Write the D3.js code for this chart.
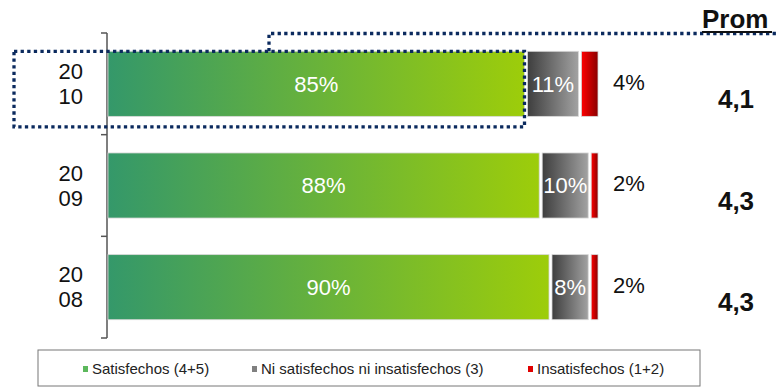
<!DOCTYPE html>
<html>
<head>
<meta charset="utf-8">
<script src="https://cdn.jsdelivr.net/npm/d3@7"></script>
<style>
  body { margin: 0; background: #fff; }
  svg { display: block; font-family: "Liberation Sans", Arial, sans-serif; }
</style>
</head>
<body>
<div id="chart"></div>
<script>
// data
const years = ["2010", "2009", "2008"];
const satisfechos = [85, 88, 90];
const ni = [11, 10, 8];
const insatisfechos = [4, 2, 2];
const prom = ["4,1", "4,3", "4,3"];
const seriesNames = ["Satisfechos (4+5)", "Ni satisfechos ni insatisfechos (3)", "Insatisfechos (1+2)"];

const width = 778, height = 390;

const svg = d3.select("#chart").append("svg")
    .attr("width", width)
    .attr("height", height);

const defs = svg.append("defs");
function grad(id, c1, c2) {
  let g = defs.append("linearGradient").attr("id", id)
      .attr("x1", "0%").attr("x2", "100%").attr("y1", "0%").attr("y2", "0%");
  g.append("stop").attr("offset", "0%").attr("stop-color", c1);
  g.append("stop").attr("offset", "100%").attr("stop-color", c2);
}
grad("gGreen", "#34986a", "#9dcd0a");
grad("gGrey", "#3e3e3e", "#a2a2a2");
grad("gRed", "#ff0000", "#8a0000");
const fills = ["url(#gGreen)", "url(#gGrey)", "url(#gRed)"];
const legendColors = ["#5cb85c", "#808080", "#e00000"];

let x = d3.scaleLinear().domain([0, 100]).range([108, 598]);
let y = d3.scaleBand().domain(years).range([33, 338])
    .paddingInner(0.36).paddingOuter(0.18);

const rows = years.map((yr, i) => ({year: yr, vals: [satisfechos[i], ni[i], insatisfechos[i]], prom: prom[i]}));
const stack = d3.stack().keys([0, 1, 2]).value((d, k) => d.vals[k]);
const stacked = stack(rows);

// axis line with ticks at band edges
const axisX = 107;
const edges = years.map(d => y(d) - y.step() * y.paddingInner() / 2);
edges.push(y.range()[1]);
const axisG = svg.append("g").attr("stroke", "#555").attr("stroke-width", 1.5);
axisG.append("line").attr("x1", axisX).attr("x2", axisX)
    .attr("y1", y.range()[0]).attr("y2", y.range()[1]);
axisG.selectAll(".tick").data(edges).enter().append("line")
    .attr("x1", axisX - 6).attr("x2", axisX)
    .attr("y1", d => d).attr("y2", d => d);

// year labels
const yl = svg.append("g").attr("font-size", 22).attr("fill", "#111").attr("text-anchor", "end");
years.forEach(function(yr) {
  let cy = y(yr) + y.bandwidth() / 2;
  yl.append("text").attr("x", 83).attr("y", cy - 12.5).attr("dy", "0.35em").text(yr.slice(0, 2));
  yl.append("text").attr("x", 83).attr("y", cy + 12.5).attr("dy", "0.35em").text(yr.slice(2));
});

// bars
stacked.forEach(function(layer, k) {
  svg.append("g").selectAll("rect").data(layer).enter().append("rect")
      .attr("x", d => x(d[0]) + (k > 0 ? 3 : 0))
      .attr("width", d => x(d[1]) - x(d[0]) - (k > 0 ? 3 : 0))
      .attr("y", d => y(d.data.year))
      .attr("height", y.bandwidth())
      .attr("fill", fills[k])
      .attr("stroke", "#d8d8d8")
      .attr("stroke-width", 0.8);
});

// labels inside
[0, 1].forEach(function(k) {
  svg.append("g").selectAll("text").data(stacked[k]).enter().append("text")
      .attr("x", d => (x(d[0]) + x(d[1])) / 2 + (k > 0 ? 1.5 : 0))
      .attr("y", d => y(d.data.year) + y.bandwidth() / 2)
      .attr("dy", "0.35em")
      .attr("text-anchor", "middle")
      .attr("font-size", 22)
      .attr("fill", "#fff")
      .text(d => d.data.vals[k] + "%");
});
// red labels outside
svg.append("g").selectAll("text").data(stacked[2]).enter().append("text")
    .attr("x", d => x(d[1]) + 15)
    .attr("y", d => y(d.data.year) + y.bandwidth() / 2 - 2)
    .attr("dy", "0.35em")
    .attr("font-size", 22)
    .attr("fill", "#111")
    .text(d => d.data.vals[2] + "%");

// Prom
svg.append("g").selectAll("text").data(rows).enter().append("text")
    .attr("x", 736)
    .attr("y", d => y(d.year) + y.bandwidth() / 2 + 15)
    .attr("dy", "0.35em")
    .attr("text-anchor", "middle")
    .attr("font-size", 26)
    .attr("font-weight", "bold")
    .attr("fill", "#111")
    .text(d => d.prom);

// dotted highlight
const navy = "#0b2a5e";
const top0 = y(years[0]);
svg.append("path")
    .attr("d", "M14," + top0 + "H" + x(satisfechos[0]) + "V" + (top0 + y.bandwidth() + 10.5) + "H14Z")
    .attr("fill", "none").attr("stroke", navy).attr("stroke-width", 3.3)
    .attr("stroke-dasharray", "3.3 3.3");
svg.append("path")
    .attr("d", "M269," + top0 + "V33.5H778")
    .attr("fill", "none").attr("stroke", navy).attr("stroke-width", 3.3)
    .attr("stroke-dasharray", "3.3 3.3");

svg.append("text").attr("x", 702).attr("y", 28)
    .attr("font-size", 26).attr("font-weight", "bold").attr("fill", "#111")
    .text("Prom");
svg.append("line").attr("x1", 702).attr("x2", 772).attr("y1", 32).attr("y2", 32)
    .attr("stroke", "#111").attr("stroke-width", 2);

// legend
const lg = svg.append("g");
lg.append("rect").attr("x", 38).attr("y", 350).attr("width", 662).attr("height", 36)
    .attr("fill", "#fff").attr("stroke", "#777").attr("stroke-width", 1);
const legX = [83, 252, 528];
seriesNames.forEach(function(n, i) {
  lg.append("rect").attr("x", legX[i]).attr("y", 366).attr("width", 5).attr("height", 6)
      .attr("fill", legendColors[i]);
  lg.append("text").attr("x", legX[i] + 9).attr("y", 369).attr("dy", "0.35em")
      .attr("font-size", 15).attr("fill", "#222").text(n);
});
</script>
</body>
</html>
